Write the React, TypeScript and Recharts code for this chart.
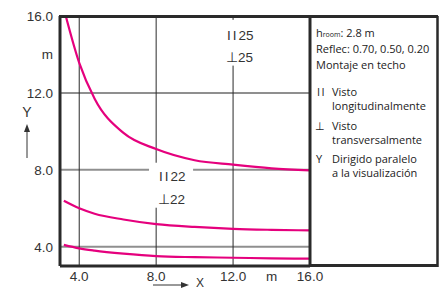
import { ComposedChart, Line, XAxis, YAxis, ReferenceLine } from 'recharts';

// distances (m) and illuminance curve values
const xTop = [3.3, 4, 4.8, 6.3, 8, 10, 12, 14, 16];
const yTop = [16.0, 13.56, 11.7, 9.92, 9.08, 8.5, 8.27, 8.08, 7.97];
const xBase = [3.2, 4, 4.8, 6.3, 8, 10, 12, 14, 16];
const yMid = [6.39, 6.0, 5.72, 5.42, 5.18, 5.03, 4.93, 4.88, 4.85];
const yLow = [4.1, 3.92, 3.8, 3.64, 3.51, 3.46, 3.43, 3.4, 3.38];

const xTicks = [4, 8, 12, 14, 16];
const yTicks = [4, 8, 12, 14, 16];
const unitTick = 14;

const topData = xTop.map((x, i) => ({ x, y: yTop[i] }));
const midData = xBase.map((x, i) => ({ x, y: yMid[i] }));
const lowData = xBase.map((x, i) => ({ x, y: yLow[i] }));

const MAGENTA = '#e5007d';
const INK = '#2a2a2a';
const GRID_H = '#8f8f8f';
const tickFont = { fill: '#333', fontSize: 13.5, fontFamily: 'Liberation Sans, Arial, sans-serif' };
const fmt = (v: number) => (v === unitTick ? 'm' : v.toFixed(1));

const legendFont: React.CSSProperties = {
  position: 'absolute',
  fontFamily: '"Open Sans", "Noto Sans", sans-serif',
  fontSize: 11,
  color: '#222',
  whiteSpace: 'nowrap',
  lineHeight: '14px',
};

export default function App() {
  return (
    <div style={{ position: 'absolute', left: 0, top: 0, width: 444, height: 290, overflow: 'hidden', background: '#fff' }}>
      <ComposedChart width={444} height={290} margin={{ top: 16, right: 134, bottom: 0, left: 0 }}>
        <XAxis
          type="number"
          dataKey="x"
          domain={[3, 16]}
          ticks={xTicks}
          tickFormatter={fmt}
          allowDataOverflow
          height={24}
          tickSize={0}
          tickMargin={5}
          tickLine={false}
          axisLine={{ stroke: INK, strokeWidth: 3 }}
          tick={tickFont}
        />
        <YAxis
          type="number"
          dataKey="y"
          domain={[3, 16]}
          ticks={yTicks}
          tickFormatter={fmt}
          allowDataOverflow
          width={60}
          tickSize={0}
          tickMargin={7}
          tickLine={false}
          axisLine={{ stroke: INK, strokeWidth: 3 }}
          tick={tickFont}
        />
        <ReferenceLine y={12} stroke={GRID_H} strokeWidth={2} />
        <ReferenceLine y={4} stroke={GRID_H} strokeWidth={2} />
        <ReferenceLine segment={[{ x: 3, y: 8 }, { x: 7.63, y: 8 }]} stroke={GRID_H} strokeWidth={2} />
        <ReferenceLine segment={[{ x: 9.92, y: 8 }, { x: 16, y: 8 }]} stroke={GRID_H} strokeWidth={2} />
        <ReferenceLine x={4} stroke={INK} strokeWidth={1} />
        <ReferenceLine segment={[{ x: 8, y: 16 }, { x: 8, y: 8.37 }]} stroke={INK} strokeWidth={1} />
        <ReferenceLine segment={[{ x: 8, y: 6.03 }, { x: 8, y: 3 }]} stroke={INK} strokeWidth={1} />
        <ReferenceLine segment={[{ x: 12, y: 16 }, { x: 12, y: 15.8 }]} stroke={INK} strokeWidth={1} />
        <ReferenceLine segment={[{ x: 12, y: 13.42 }, { x: 12, y: 3 }]} stroke={INK} strokeWidth={1} />
        <Line data={topData} dataKey="y" type="monotone" stroke={MAGENTA} strokeWidth={2.2} dot={false} isAnimationActive={false} />
        <Line data={midData} dataKey="y" type="monotone" stroke={MAGENTA} strokeWidth={2.2} dot={false} isAnimationActive={false} />
        <Line data={lowData} dataKey="y" type="monotone" stroke={MAGENTA} strokeWidth={2.2} dot={false} isAnimationActive={false} />
      </ComposedChart>

      <svg width={444} height={290} style={{ position: 'absolute', left: 0, top: 0, pointerEvents: 'none' }}>
        {/* plot frame + legend box */}
        <line x1={59} y1={16.5} x2={438} y2={16.5} stroke={INK} strokeWidth={3} />
        <line x1={310} y1={16} x2={310} y2={267} stroke={INK} strokeWidth={3} />
        <line x1={437.5} y1={16} x2={437.5} y2={267} stroke={INK} strokeWidth={2.5} />
        <line x1={310} y1={265.5} x2={438} y2={265.5} stroke={INK} strokeWidth={3} />
        {/* in-plot labels */}
        <g fontFamily="Liberation Sans, Arial, sans-serif" fontSize={13.5} fill="#333">
          <text x={227} y={40}><tspan letterSpacing={2}>II</tspan>25</text>
          <text x={226} y={62}>⊥25</text>
          <text x={159} y={181}><tspan letterSpacing={2}>II</tspan>22</text>
          <text x={158} y={204}>⊥22</text>
        </g>
        {/* axis names with arrows */}
        <g fontFamily="Liberation Sans, Arial, sans-serif" fill="#333">
          <text x={27} y={117} fontSize={14} textAnchor="middle">Y</text>
          <text x={200} y={287} fontSize={12} textAnchor="middle">X</text>
        </g>
        <line x1={27} y1={158} x2={27} y2={131} stroke="#333" strokeWidth={1} />
        <path d="M27 124 L24 132 L30 132 Z" fill="#333" />
        <line x1={153} y1={285} x2={182} y2={285} stroke="#333" strokeWidth={1} />
        <path d="M189 285 L181 282 L181 288 Z" fill="#333" />
      </svg>

      <div style={{ ...legendFont, left: 316, top: 26 }}>
        h<span style={{ fontSize: 7 }}>room</span>: 2.8 m
      </div>
      <div style={{ ...legendFont, left: 316, top: 42 }}>Reflec: 0.70,  0.50,  0.20</div>
      <div style={{ ...legendFont, left: 316, top: 58 }}>Montaje en techo</div>
      <div style={{ ...legendFont, left: 317, top: 85, letterSpacing: 1.5 }}>II</div>
      <div style={{ ...legendFont, left: 332, top: 85 }}>Visto<br />longitudinalmente</div>
      <div style={{ ...legendFont, left: 315, top: 119 }}>⊥</div>
      <div style={{ ...legendFont, left: 332, top: 119 }}>Visto<br />transversalmente</div>
      <div style={{ ...legendFont, left: 316, top: 152 }}>Y</div>
      <div style={{ ...legendFont, left: 332, top: 152 }}>Dirigido paralelo<br />a la visualización</div>
    </div>
  );
}
